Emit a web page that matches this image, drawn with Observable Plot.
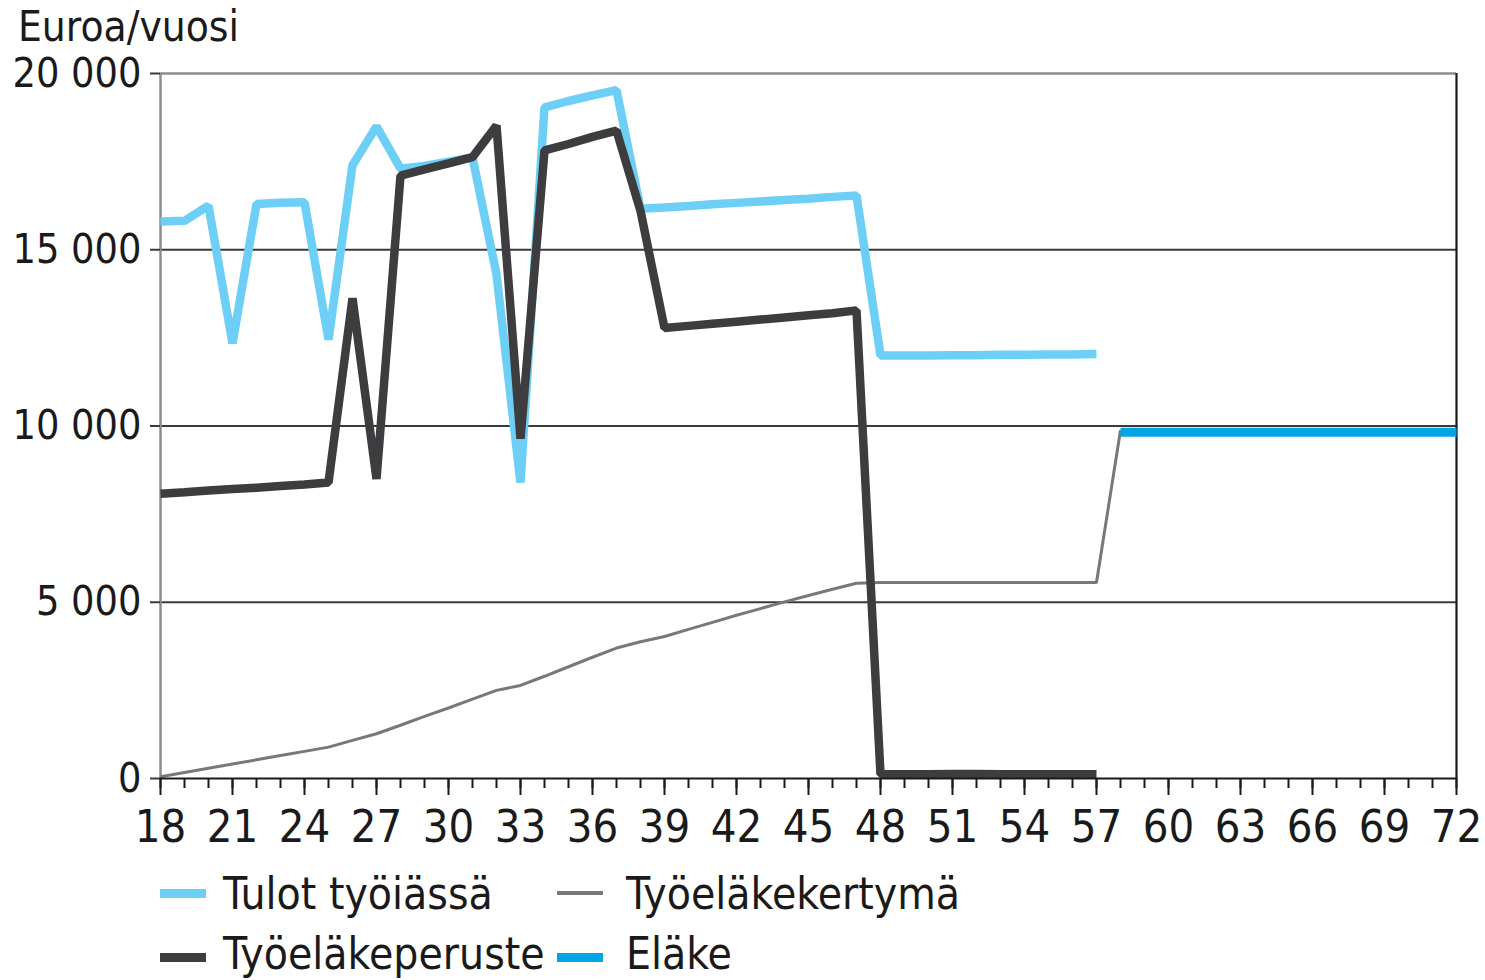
<!DOCTYPE html>
<html>
<head>
<meta charset="utf-8">
<script src="https://cdn.jsdelivr.net/npm/d3@7"></script>
<script src="https://cdn.jsdelivr.net/npm/@observablehq/plot@0.6"></script>
<style>
  html, body { margin: 0; padding: 0; background: #fff; }
  #wrap { position: relative; width: 1485px; height: 980px; overflow: hidden;
    font-family: "Liberation Sans Narrow", "DejaVu Sans Condensed", "Open Sans", sans-serif; color: #1a1a1a; }
  #chart { position: absolute; left: 0; top: 0; }
  .title { position: absolute; left: 18px; top: 6px; font-size: 42px; line-height: 42px; }
  .leg { position: absolute; font-size: 44px; line-height: 44px; white-space: nowrap; }
  .sw { position: absolute; width: 46px; }
</style>
</head>
<body>
<div id="wrap">
  <div id="chart"></div>
  <div class="title">Euroa/vuosi</div>
  <div id="legend"></div>
</div>
<script>
// ---- data ----
const workAges = d3.range(18, 58);           // 18..57
const tulot = [15800, 15820, 16250, 12350, 16300, 16330, 16350, 12450, 17400, 18500,
               17300, 17380, 17500, 17620, 14300, 8400, 19040, 19220, 19380, 19530,
               16160, 16200, 16240, 16290, 16330, 16370, 16410, 16450, 16500, 16540,
               12000, 12000, 12000, 12010, 12010, 12020, 12020, 12030, 12030, 12040];
const peruste = [8080, 8120, 8170, 8210, 8250, 8300, 8340, 8400, 13620, 8500,
                 17100, 17280, 17450, 17630, 18520, 9640, 17820, 18000, 18200, 18380,
                 16100, 12780, 12840, 12900, 12960, 13020, 13080, 13140, 13200, 13280,
                 120, 120, 120, 130, 130, 120, 120, 120, 120, 120];
const kertymaAges = d3.range(18, 59);        // 18..58
const kertyma = [50, 170, 290, 410, 530, 650, 770, 890, 1080, 1270,
                 1510, 1760, 2000, 2250, 2500, 2640, 2900, 3170, 3440, 3700,
                 3880, 4030, 4230, 4430, 4630, 4820, 5010, 5190, 5370, 5540,
                 5560, 5560, 5560, 5560, 5560, 5560, 5560, 5560, 5560, 5560,
                 9880];
const elakeAges = d3.range(58, 73);          // 58..72
const elake = [9820, 9820, 9820, 9820, 9820, 9820, 9820, 9820, 9820, 9820, 9820, 9820, 9820, 9820, 9820];
const yTicks = [0, 5000, 10000, 15000, 20000];
const xMajor = d3.range(18, 73, 3);
const xMinor = d3.range(18, 73, 1);
const seriesNames = ["Tulot työiässä", "Työeläkekertymä", "Työeläkeperuste", "Eläke"];
const colors = {"Tulot työiässä": "#6dcff6", "Työeläkekertymä": "#77787b", "Työeläkeperuste": "#3d3d3f", "Eläke": "#00a6e3"};

const tulotData = workAges.map((a, i) => ({age: a, v: tulot[i]}));
const perusteData = workAges.map((a, i) => ({age: a, v: peruste[i]}));
const kertymaData = kertymaAges.map((a, i) => ({age: a, v: kertyma[i]}));
const elakeData = elakeAges.map((a, i) => ({age: a, v: elake[i]}));

const fmt = d => d3.format(",")(d).replace(/,/g, " ");
const FONT = '"Liberation Sans Narrow", "DejaVu Sans Condensed", "Open Sans", sans-serif';

const chart = Plot.plot({
  width: 1485,
  height: 870,
  marginTop: 73,
  marginBottom: 92,
  marginLeft: 160,
  marginRight: 29,
  style: {fontFamily: FONT, fontSize: "45px", color: "#1a1a1a", background: "white"},
  x: {domain: [18, 72]},
  y: {domain: [0, 20000]},
  marks: [
    Plot.ruleY([5000, 10000, 15000], {stroke: "#3a3a3a", strokeWidth: 2.2}),
    Plot.ruleY([20000], {stroke: "#8c8c8c", strokeWidth: 2.5}),
    Plot.ruleX([18], {stroke: "#8c8c8c", strokeWidth: 2.5}),
    Plot.ruleX([72], {stroke: "#1a1a1a", strokeWidth: 2.2}),
    Plot.axisY({ticks: yTicks, tickSize: 10, tickPadding: 9, tickFormat: fmt, stroke: "#3a3a3a", strokeWidth: 2, fontSize: 41, label: null}),
    Plot.axisX({ticks: xMinor, tickSize: 10, tickFormat: () => "", stroke: "#1a1a1a", strokeWidth: 2, label: null}),
    Plot.axisX({ticks: xMajor, tickSize: 17, tickPadding: 15, stroke: "#1a1a1a", strokeWidth: 2, fontSize: 45, label: null}),
    Plot.line(tulotData, {x: "age", y: "v", stroke: colors["Tulot työiässä"], strokeWidth: 8.5, strokeLinejoin: "miter", strokeLinecap: "butt"}),
    Plot.line(kertymaData, {x: "age", y: "v", stroke: colors["Työeläkekertymä"], strokeWidth: 3, strokeLinejoin: "miter", strokeLinecap: "butt"}),
    Plot.line(perusteData, {x: "age", y: "v", stroke: colors["Työeläkeperuste"], strokeWidth: 8.5, strokeLinejoin: "miter", strokeLinecap: "butt"}),
    Plot.line(elakeData, {x: "age", y: "v", stroke: colors["Eläke"], strokeWidth: 9, strokeLinejoin: "miter", strokeLinecap: "butt"}),
    Plot.ruleY([0], {stroke: "#1a1a1a", strokeWidth: 2.2})
  ]
});
document.getElementById("chart").appendChild(chart);

// ---- legend ----
const legendLayout = [
  {name: seriesNames[0], sx: 160, sy: 893, th: 9, tx: 223, ty: 872},
  {name: seriesNames[1], sx: 557, sy: 893, th: 4, tx: 626, ty: 872},
  {name: seriesNames[2], sx: 160, sy: 957, th: 9, tx: 223, ty: 932},
  {name: seriesNames[3], sx: 557, sy: 957, th: 9, tx: 626, ty: 932}
];
const leg = document.getElementById("legend");
for (const l of legendLayout) {
  const s = document.createElement("div");
  s.className = "sw";
  s.style.left = l.sx + "px";
  s.style.top = (l.sy - l.th / 2) + "px";
  s.style.height = l.th + "px";
  s.style.background = colors[l.name];
  leg.appendChild(s);
  const t = document.createElement("div");
  t.className = "leg";
  t.style.left = l.tx + "px";
  t.style.top = l.ty + "px";
  t.textContent = l.name;
  leg.appendChild(t);
}
</script>
</body>
</html>
